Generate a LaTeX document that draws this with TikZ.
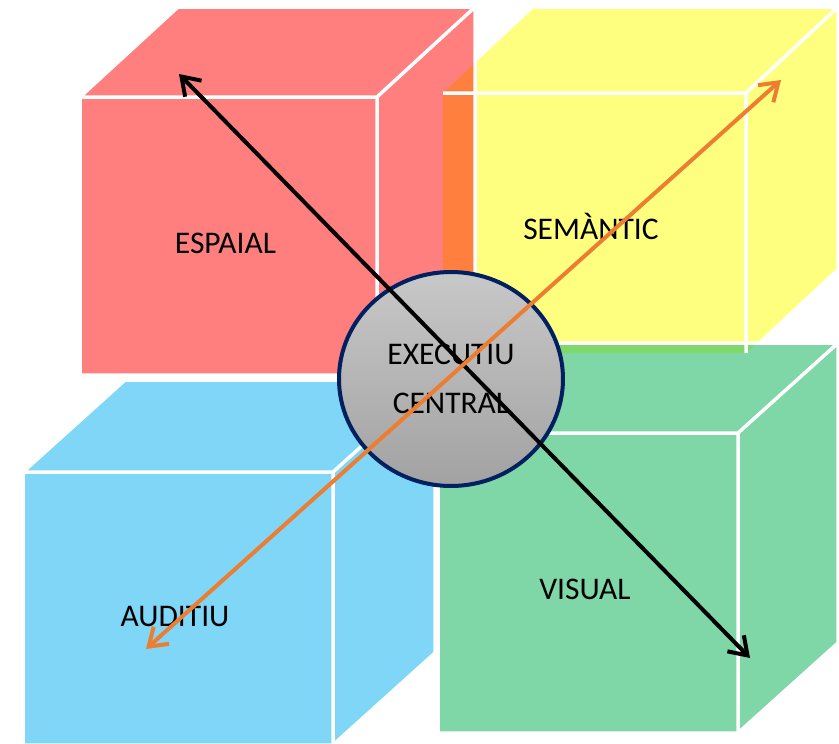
\documentclass[tikz,border=0pt]{standalone}
\usepackage{fontspec}
\setmainfont{Carlito}
\usetikzlibrary{shapes.geometric,arrows.meta}
\definecolor{cred}{HTML}{FF7F7F}
\definecolor{cyellow}{HTML}{FFFF7F}
\definecolor{corange}{HTML}{FF7F3F}
\definecolor{cgreen}{HTML}{7FD6A7}
\definecolor{cygreen}{HTML}{7FD86A}
\definecolor{cblue}{HTML}{7FD6F7}
\definecolor{cnavy}{HTML}{002060}
\definecolor{carrow}{HTML}{ED7D31}
\definecolor{gtop}{HTML}{C8C8C8}
\definecolor{gbot}{HTML}{A2A2A2}
\newcommand{\mkcube}[7]{%
 \coordinate (#1-a) at (#2,#3);
 \coordinate (#1-b) at ({#2+#4},#3);
 \coordinate (#1-c) at ({#2+#4},{#3+#5});
 \coordinate (#1-d) at (#2,{#3+#5});
 \coordinate (#1-e) at ({#2+#6},{#3-#7});
 \coordinate (#1-f) at ({#2+#4+#6},{#3-#7});
 \coordinate (#1-g) at ({#2+#4+#6},{#3+#5-#7});
}
\newcommand{\cubepath}[1]{(#1-a) -- (#1-e) -- (#1-f) -- (#1-g) -- (#1-c) -- (#1-d) -- cycle}
\tikzset{
 edge/.style={draw=white, line width=3.5pt, line join=miter},
 lbl/.style={font=\fontsize{31.5}{36}\selectfont, text=black, inner sep=0pt, anchor=base},
 exec/.style={ellipse, draw=cnavy, line width=4pt, minimum width=224pt, minimum height=214pt,
   inner sep=0pt, top color=gtop, bottom color=gbot, align=center,
   font=\fontsize{31.5}{49}\selectfont},
 link/.style={line width=4pt, line cap=round, line join=round,
   {Straight Barb[length=17pt,width=23pt]}-{Straight Barb[length=17pt,width=23pt]}},
}
\begin{document}
\begin{tikzpicture}[x=1pt,y=-1pt]
\useasboundingbox (0,0) rectangle (839,744);
\mkcube{R}{80}{97}{297}{278}{98}{90}
\mkcube{Y}{443}{93}{303}{260}{92}{86}
\mkcube{B}{23}{472}{310}{273}{102}{92}
\mkcube{G}{438}{433}{300}{300}{100}{90}
% fills
\fill[cyellow] \cubepath{Y};
\fill[cred] \cubepath{R};
\begin{scope}
 \clip \cubepath{R};
 \fill[corange] \cubepath{Y};
\end{scope}
\fill[cgreen] \cubepath{G};
\begin{scope}
 \clip \cubepath{G};
 \fill[cygreen] \cubepath{Y};
\end{scope}
\fill[cblue] \cubepath{B};
% white edges
\draw[edge] (Y-a) -- (Y-b) -- (Y-c) (Y-b) -- (Y-f) (Y-e) -- (Y-f) -- (Y-g);
\draw[edge] \cubepath{R} (R-a) -- (R-b) -- (R-c) (R-b) -- (R-f);
\draw[edge] \cubepath{G} (G-a) -- (G-b) -- (G-c) (G-b) -- (G-f);
\draw[edge] \cubepath{B} (B-a) -- (B-b) -- (B-c) (B-b) -- (B-f);
% labels
\node[lbl] (espaial) at (225.5,253) {ESPAIAL};
\node[lbl] (semantic) at (591,239) {SEMÀNTIC};
\node[lbl] (auditiu) at (175,626) {AUDITIU};
\node[lbl] (visual) at (585,599) {VISUAL};
% central executive
\node[exec] (central) at (451,379) {EXECUTIU\\CENTRAL};
% arrows
\coordinate (tl) at (179,74);
\coordinate (br) at (750,658);
\coordinate (tr) at (781,80);
\coordinate (bl) at (146,649);
\draw[link, draw=black] (tl) -- (br);
\draw[link, draw=carrow] (tr) -- (bl);
\end{tikzpicture}
\end{document}
